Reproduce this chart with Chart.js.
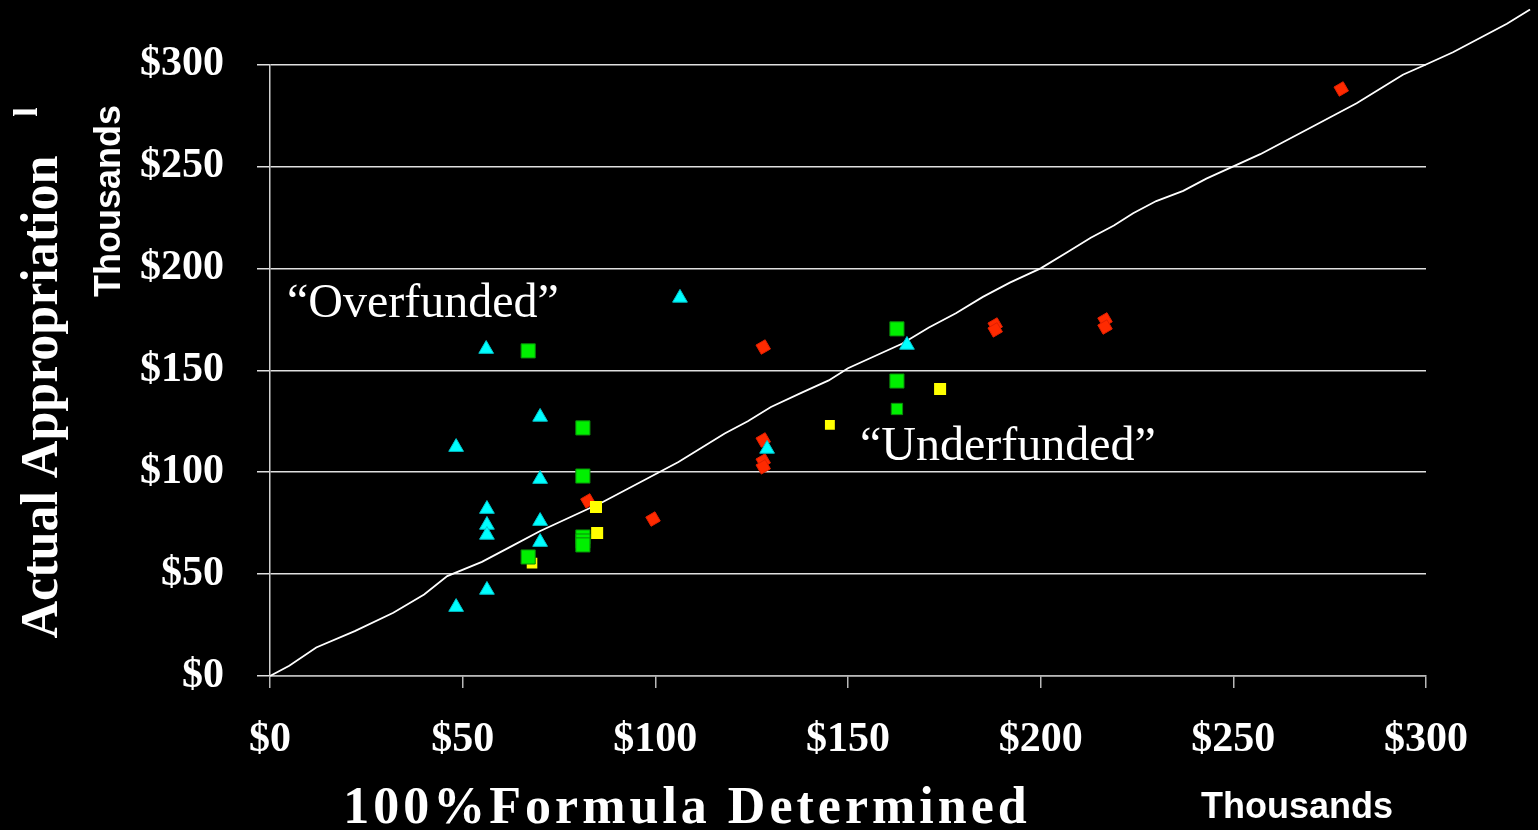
<!DOCTYPE html>
<html>
<head>
<meta charset="utf-8">
<script src="https://cdn.jsdelivr.net/npm/chart.js@4.4.0/dist/chart.umd.min.js"></script>
<style>
  html, body { margin: 0; padding: 0; background: #000; overflow: hidden; }
  #wrap { width: 1538px; height: 830px; }
</style>
</head>
<body>
<div id="wrap"><canvas id="chart" width="1538" height="830"></canvas></div>
<script>
// values in thousands of dollars
const tickValues = [0, 50, 100, 150, 200, 250, 300];
const axisMin = 0;
const axisMax = 300;

// cyan triangles
const cyanX = [56.1, 106.4, 48.3, 70.1, 70.1, 56.3, 56.3, 56.3, 70.1, 70.1, 56.3, 48.3, 129.0, 165.3];
const cyanY = [160.4, 185.5, 112.3, 127.1, 96.6, 81.9, 74.1, 69.2, 76.0, 65.7, 42.2, 33.8, 111.4, 162.4];

// green squares
const greenX = [67.0, 81.2, 81.2, 81.2, 81.2, 81.2, 67.0, 162.7, 162.7, 162.7];
const greenY = [159.5, 121.7, 98.1, 68.2, 66.2, 64.3, 58.4, 170.3, 144.7, 131.0];

// yellow squares
const yellowX = [84.6, 84.9, 68.0, 145.3, 173.9];
const yellowY = [82.9, 70.2, 55.4, 123.2, 140.8];

// red diamonds
const redX = [278.0, 82.5, 99.4, 128.0, 128.0, 128.0, 128.0, 188.2, 188.2, 216.7, 216.7];
const redY = [288.0, 85.9, 77.0, 161.4, 115.8, 105.5, 102.6, 172.2, 169.8, 174.7, 171.2];

// white reference line (runs past the plot area, top right)
const lineX = [0, 5, 12, 22, 32, 40, 46, 55, 62, 70, 78, 86, 93, 100, 106, 112, 118, 124, 130, 138, 145, 150, 157, 164, 171, 178, 185, 192, 200, 207, 213, 219, 224, 230, 237, 243, 250, 257, 263, 270, 276, 282, 288, 294, 300, 307, 314, 321, 327];
const lineY = [0, 5, 14, 22, 31, 40, 49, 56, 63, 71, 78, 85, 92, 99, 105, 112, 119, 125, 132, 139, 145, 151, 157, 163, 171, 178, 186, 193, 200, 208, 215, 221, 227, 233, 238, 244, 250, 256, 262, 269, 275, 281, 288, 295, 300, 306, 313, 320, 327];

function pts(xs, ys) {
    return xs.map((x, i) => ({ x: x, y: ys[i] }));
}

const serif = "'Liberation Serif', 'Times New Roman', serif";
const sans = "'Liberation Sans', Arial, sans-serif";

// black background + axis titles + annotations
const decorPlugin = {
    id: 'decor',
    beforeDraw(chart) {
        const ctx = chart.ctx;
        ctx.save();
        ctx.fillStyle = '#000';
        ctx.fillRect(0, 0, chart.width, chart.height);
        ctx.restore();
    },
    afterDraw(chart) {
        const ctx = chart.ctx;
        ctx.save();
        ctx.fillStyle = '#fff';

        // y titles
        ctx.save();
        ctx.translate(57, 397);
        ctx.rotate(-Math.PI / 2);
        ctx.textAlign = 'center';
        ctx.font = 'bold 52px ' + serif;
        ctx.fillText('Actual Appropriation', 0, 0);
        ctx.restore();

        ctx.save();
        ctx.translate(37, 112);
        ctx.rotate(-Math.PI / 2);
        ctx.textAlign = 'center';
        ctx.font = 'bold 34px ' + serif;
        ctx.fillText('l', 0, 0);
        ctx.restore();

        ctx.save();
        ctx.translate(120, 201);
        ctx.rotate(-Math.PI / 2);
        ctx.textAlign = 'center';
        ctx.font = 'bold 36px ' + sans;
        ctx.fillText('Thousands', 0, 0);
        ctx.restore();

        // x titles
        ctx.textAlign = 'center';
        ctx.font = 'bold 52px ' + serif;
        ctx.letterSpacing = '4px';
        ctx.fillText('100%Formula Determined', 687, 823);
        ctx.letterSpacing = '0px';
        ctx.font = 'bold 36px ' + sans;
        ctx.fillText('Thousands', 1297, 818);

        // annotations
        ctx.textAlign = 'left';
        ctx.font = '48px ' + serif;
        ctx.fillText('\u201COverfunded\u201D', 287, 317);
        ctx.fillText('\u201CUnderfunded\u201D', 860, 460);
        ctx.restore();
    }
};

const tickFont = { family: serif, size: 42, weight: 'bold' };

// set the range after data limits so the line can run past 300
function fixRange(scale) {
    scale.min = axisMin;
    scale.max = axisMax;
}

new Chart(document.getElementById('chart'), {
    type: 'scatter',
    data: {
        datasets: [{
            label: 'cyan',
            data: pts(cyanX, cyanY),
            pointStyle: 'triangle',
            pointRadius: 8.5,
            backgroundColor: '#00ffff',
            borderColor: '#00c8d0',
            borderWidth: 1,
            order: 0
        }, {
            label: 'green',
            data: pts(greenX, greenY),
            pointStyle: 'rect',
            pointRadius: [10, 10, 10, 10, 10, 10, 10, 10, 10, 8],
            backgroundColor: '#00f000',
            borderColor: '#0a8a0a',
            borderWidth: 1,
            order: 1
        }, {
            label: 'yellow',
            data: pts(yellowX, yellowY),
            pointStyle: 'rect',
            pointRadius: [8.5, 8.5, 7.5, 7, 8.5],
            backgroundColor: '#ffff00',
            borderColor: '#ffff00',
            borderWidth: 0,
            order: 2
        }, {
            label: 'red',
            data: pts(redX, redY),
            pointStyle: 'rectRot',
            pointRotation: 15,
            pointRadius: 7.5,
            backgroundColor: '#ff2a00',
            borderColor: '#e02000',
            borderWidth: 1,
            order: 3
        }, {
            type: 'line',
            label: 'line',
            data: pts(lineX, lineY),
            showLine: true,
            borderColor: '#ffffff',
            borderWidth: 1.8,
            pointRadius: 0,
            tension: 0,
            fill: false,
            clip: false,
            order: 4
        }]
    },
    options: {
        responsive: false,
        animation: false,
        events: [],
        layout: { padding: { top: 64.5, right: 112, left: 0, bottom: 0 } },
        plugins: {
            legend: { display: false },
            tooltip: { enabled: false },
            title: { display: false }
        },
        scales: {
            x: {
                type: 'linear',
                bounds: 'data',
                afterDataLimits: fixRange,
                afterBuildTicks: (scale) => { scale.ticks = tickValues.map(v => ({ value: v })); },
                afterFit: (scale) => { scale.height = 154; },
                grid: {
                    drawOnChartArea: false,
                    drawTicks: true,
                    tickLength: 12,
                    color: '#b8b8b8',
                    lineWidth: 1.5
                },
                border: { display: true, color: '#b8b8b8', width: 1.5 },
                ticks: {
                    color: '#ffffff',
                    font: tickFont,
                    padding: 27,
                    maxRotation: 0,
                    stepSize: 50,
                    callback: (v) => '$' + v
                }
            },
            y: {
                type: 'linear',
                bounds: 'data',
                afterDataLimits: fixRange,
                afterBuildTicks: (scale) => { scale.ticks = tickValues.map(v => ({ value: v })); },
                afterFit: (scale) => { scale.width = 270; },
                grid: {
                    drawOnChartArea: true,
                    drawTicks: true,
                    tickLength: 13,
                    color: '#e0e0e0',
                    lineWidth: 1.5
                },
                border: { display: true, color: '#d0d0d0', width: 1.5 },
                ticks: {
                    color: '#ffffff',
                    font: tickFont,
                    padding: 33,
                    stepSize: 50,
                    callback: (v) => '$' + v
                }
            }
        }
    },
    plugins: [decorPlugin]
});
</script>
</body>
</html>
